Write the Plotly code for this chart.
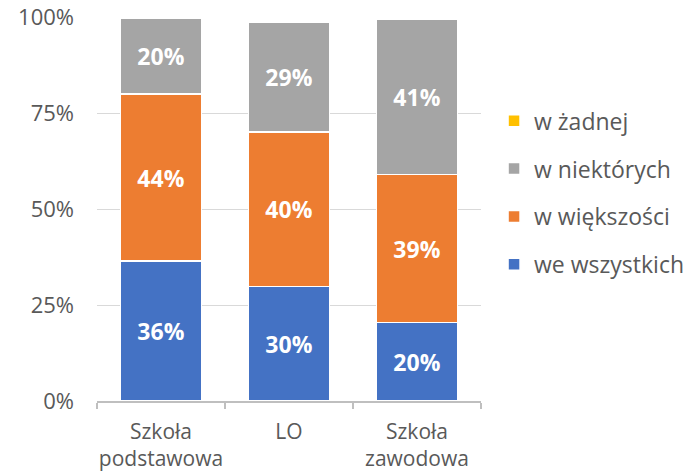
import plotly.graph_objects as go

categories = ["Szkoła<br>podstawowa", "LO", "Szkoła<br>zawodowa"]
we_wszystkich = [36.4, 29.8, 20.4]
w_wiekszosci = [43.6, 40.2, 38.6]
w_niektorych = [19.6, 28.6, 40.5]
w_zadnej = [0, 0, 0]

series = [
    ("we wszystkich", we_wszystkich, "#4472C4", True),
    ("w większości", w_wiekszosci, "#ED7D31", True),
    ("w niektórych", w_niektorych, "#A5A5A5", True),
    ("w żadnej", w_zadnej, "#FFC000", False),
]

FONT = "Open Sans"
fig = go.Figure()
for i, (name, vals, color, show_text) in enumerate(series):
    fig.add_trace(go.Bar(
        x=categories, y=vals, name=name,
        marker=dict(color=color, line=dict(color="white", width=1.5)),
        texttemplate="%{y:.0f}%" if show_text else "",
        textposition="inside", insidetextanchor="middle",
        textfont=dict(family=FONT, size=23, color="white", weight="bold"),
        legendgroup=name, legendrank=10 - i,
    ))

fig.update_layout(
    width=690, height=472,
    barmode="stack", bargap=0.367,
    plot_bgcolor="white", paper_bgcolor="white",
    margin=dict(l=97, r=209, t=17, b=71),
    font=dict(family=FONT, size=22, color="#595959"),
    showlegend=True,
    legend=dict(x=0.716, xref="container", y=0.786, yref="paper",
                xanchor="left", yanchor="top",
                traceorder="grouped", tracegroupgap=15,
                font=dict(family=FONT, size=23, color="#595959"),
                itemwidth=30, bgcolor="rgba(0,0,0,0)"),
)
fig.update_yaxes(range=[0, 100], tickvals=[0, 25, 50, 75, 100],
                 ticktext=["0%", "25%", "50%", "75%", "100%"],
                 showgrid=True, gridcolor="#D9D9D9", gridwidth=1,
                 zeroline=False, showline=False, ticks="",
                 ticklabelstandoff=22, automargin=False)
fig.update_xaxes(showline=True, linecolor="#BFBFBF", linewidth=1.5,
                 ticks="outside", tickson="boundaries", ticklen=6,
                 tickcolor="#BFBFBF", tickwidth=1.5, tickangle=0,
                 tickfont=dict(size=21),
                 ticklabelstandoff=11, automargin=False)

fig.write_html("out.html", config={"displayModeBar": False},
               post_script="document.body.style.margin='0';")
